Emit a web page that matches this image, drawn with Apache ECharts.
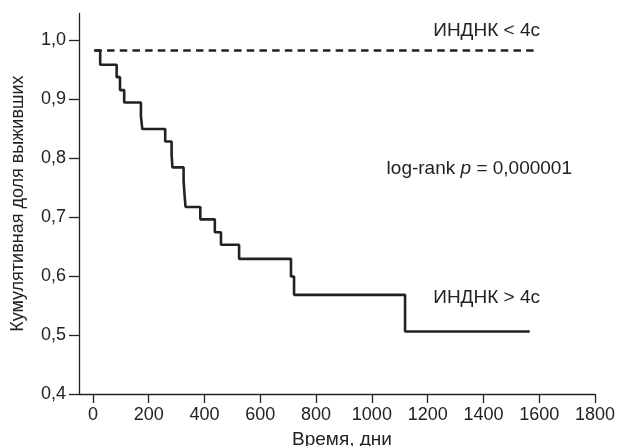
<!DOCTYPE html>
<html>
<head>
<meta charset="utf-8">
<script src="https://cdn.jsdelivr.net/npm/echarts@6/dist/echarts.min.js"></script>
<style>
html,body{margin:0;padding:0;background:#fff;}
#chart{width:617px;height:446px;}
</style>
</head>
<body>
<div id="chart"></div>
<script>
// Group ИНДНК>4с (Kaplan–Meier steps: time in days, survival after event)
const timeHigh = [5, 26, 85, 97, 112, 172, 177, 259, 282, 285, 325, 328, 332, 385, 437, 459, 524, 710, 721, 1119, 1566];
const survHigh = [0.982, 0.958, 0.937, 0.915, 0.894, 0.871, 0.849, 0.828, 0.806, 0.784, 0.762, 0.740, 0.717, 0.696, 0.674, 0.653, 0.629, 0.599, 0.568, 0.506, 0.506];
// Group ИНДНК<4с
const timeLow = [5, 1582];
const survLow = [0.982, 0.982];
// Axis ticks
const xTicks = [0, 200, 400, 600, 800, 1000, 1200, 1400, 1600, 1800];
const yTicks = [0.4, 0.5, 0.6, 0.7, 0.8, 0.9, 1.0];

const FONT = '"Liberation Sans", Arial, sans-serif';
const INK = '#222';

const chart = echarts.init(document.getElementById('chart'), null, {renderer: 'canvas'});
chart.setOption({
  animation: false,
  backgroundColor: '#fff',
  grid: {left: 79, right: 22, top: 13.4, bottom: 52, containLabel: false, outerBoundsMode: 'none'},
  xAxis: {
    type: 'value', min: -50, max: 1800,
    name: 'Время, дни', nameLocation: 'middle', nameGap: 36,
    nameTextStyle: {fontFamily: FONT, fontSize: 19, color: INK, padding: [0, 0, 0, 10]},
    axisLine: {show: true, onZero: false, lineStyle: {color: INK, width: 1.3}},
    axisTick: {show: true, length: 9, customValues: xTicks, lineStyle: {color: INK, width: 1.3}},
    axisLabel: {customValues: xTicks, margin: 12, fontFamily: FONT, fontSize: 18, color: INK,
      formatter: v => String(v)},
    splitLine: {show: false}
  },
  yAxis: {
    type: 'value', min: 0.4, max: 1.045,
    name: 'Кумулятивная доля выживших', nameLocation: 'middle', nameGap: 52,
    nameTextStyle: {fontFamily: FONT, fontSize: 18, color: INK},
    axisLine: {show: true, onZero: false, lineStyle: {color: INK, width: 1.3}},
    axisTick: {show: true, length: 10, customValues: yTicks, lineStyle: {color: INK, width: 1.3}},
    axisLabel: {customValues: yTicks, margin: 13, fontFamily: FONT, fontSize: 18, color: INK,
      formatter: v => v.toFixed(1).replace('.', ',')},
    splitLine: {show: false}
  },
  series: [
    {
      type: 'line', name: 'ИНДНК<4с', step: 'end', symbol: 'none',
      data: timeLow.map((t, i) => [t, survLow[i]]),
      lineStyle: {color: INK, width: 2.6, type: [7.5, 5.2]}
    },
    {
      type: 'line', name: 'ИНДНК>4с', step: 'end', symbol: 'none',
      data: timeHigh.map((t, i) => [t, survHigh[i]]),
      lineStyle: {color: INK, width: 2.6}
    }
  ],
  graphic: [
    {type: 'text', right: 77, top: 21, style: {text: 'ИНДНК < 4с', font: '19px ' + FONT, fill: INK}},
    {type: 'text', right: 45, top: 159, style: {rich: {n: {font: '19px ' + FONT, fill: INK}, i: {font: 'italic 19px ' + FONT, fill: INK}}, text: '{n|log-rank }{i|p}{n| = 0,000001}'}},
    {type: 'text', right: 77, top: 288, style: {text: 'ИНДНК > 4с', font: '19px ' + FONT, fill: INK}}
  ]
});
</script>
</body>
</html>
